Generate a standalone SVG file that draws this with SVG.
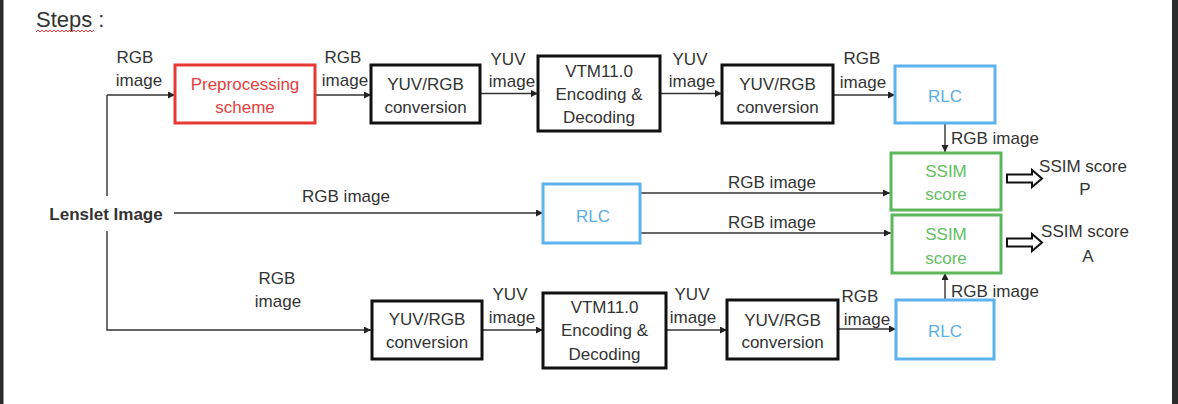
<svg xmlns="http://www.w3.org/2000/svg" width="1178" height="404" viewBox="0 0 1178 404">
<defs>
<marker id="ah" markerUnits="userSpaceOnUse" markerWidth="8" markerHeight="8" refX="7" refY="3.5" orient="auto">
<path d="M0,0 L7,3.5 L0,7 z" fill="#222"/>
</marker>
<style>
text{font-family:"Liberation Sans",Arial,sans-serif;font-size:17px;fill:#333;text-anchor:middle}
.box{fill:#fff;stroke:#111;stroke-width:3}
.red{fill:#fff;stroke:#e53935;stroke-width:3}
.blue{fill:#fff;stroke:#5db3ee;stroke-width:3}
.green{fill:#fff;stroke:#5cb85c;stroke-width:3}
.tr{fill:#e53e3e}
.tb{fill:#5aaee8}
.tg{fill:#62c062}
.c{fill:none;stroke:#333;stroke-width:1.4;marker-end:url(#ah)}
.cn{fill:none;stroke:#333;stroke-width:1.4}
.ha{fill:#fff;stroke:#111;stroke-width:2}
.l{text-anchor:start}
</style>
</defs>
<rect x="0" y="0" width="1178" height="404" fill="#fff"/>
<rect x="0" y="0" width="3.5" height="404" fill="#2b2b2b"/>
<rect x="1172" y="0" width="6" height="404" fill="#2b2b2b"/>

<g id="title">
<text x="36" y="27" class="l" style="font-size:22px">Steps :</text>
<path d="M36,32 l2,-2 l2,2 l2,-2 l2,2 l2,-2 l2,2 l2,-2 l2,2 l2,-2 l2,2 l2,-2 l2,2 l2,-2 l2,2 l2,-2 l2,2 l2,-2 l2,2 l2,-2 l2,2 l2,-2 l2,2 l2,-2 l2,2 l2,-2 l2,2 l2,-2 l2,2 l2,-2" fill="none" stroke="#e53935" stroke-width="1"/>
</g>

<g id="connectors">
<path class="cn" d="M107,196 V95"/>
<path class="c" d="M107,95 H175"/>
<path class="c" d="M107,231 V330 H371"/>
<path class="c" d="M174,213 H543"/>
<path class="c" d="M315,95 H371"/>
<path class="c" d="M480,93.5 H538"/>
<path class="c" d="M660,93.5 H722"/>
<path class="c" d="M833,95 H895"/>
<path class="c" d="M945,123 V152"/>
<path class="c" d="M640,193 H890"/>
<path class="c" d="M640,233 H891"/>
<path class="c" d="M945,300 V273"/>
<path class="c" d="M482,330 H543"/>
<path class="c" d="M666,330 H727"/>
<path class="c" d="M838,329 H896"/>
<text x="135" y="63">RGB</text>
<text x="139" y="86">image</text>
<text x="343" y="63">RGB</text>
<text x="345" y="86">image</text>
<text x="508" y="65">YUV</text>
<text x="512" y="87">image</text>
<text x="690" y="65">YUV</text>
<text x="692" y="87">image</text>
<text x="862" y="64">RGB</text>
<text x="863" y="88">image</text>
<text x="951" y="144" class="l">RGB image</text>
<text x="346" y="202">RGB image</text>
<text x="772" y="188">RGB image</text>
<text x="772" y="228">RGB image</text>
<text x="951" y="297" class="l">RGB image</text>
<text x="277" y="284">RGB</text>
<text x="278" y="307">image</text>
<text x="510" y="300">YUV</text>
<text x="512" y="323">image</text>
<text x="692" y="300">YUV</text>
<text x="693" y="323">image</text>
<text x="860" y="302">RGB</text>
<text x="867" y="325">image</text>
</g>

<g id="lenslet">
<text x="106" y="220" style="font-weight:bold">Lenslet Image</text>
</g>

<g id="prep">
<rect class="red" x="175" y="65" width="140" height="58"/>
<text class="tr" x="245" y="90">Preprocessing</text>
<text class="tr" x="245" y="113">scheme</text>
</g>
<g id="yuv1">
<rect class="box" x="371" y="65" width="109" height="58"/>
<text x="425.5" y="90">YUV/RGB</text>
<text x="425.5" y="113">conversion</text>
</g>
<g id="vtm1">
<rect class="box" x="538" y="56" width="122" height="75"/>
<text x="599" y="77">VTM11.0</text>
<text x="599" y="100">Encoding &amp;</text>
<text x="599" y="123">Decoding</text>
</g>
<g id="yuv2">
<rect class="box" x="722" y="65" width="111" height="58"/>
<text x="777.5" y="90">YUV/RGB</text>
<text x="777.5" y="113">conversion</text>
</g>
<g id="rlc1">
<rect class="blue" x="895" y="66" width="100" height="57"/>
<text class="tb" x="945" y="102">RLC</text>
</g>
<g id="ssimP">
<rect class="green" x="891" y="153" width="110" height="57"/>
<text class="tg" x="946" y="177">SSIM</text>
<text class="tg" x="946" y="200">score</text>
</g>
<g id="outP">
<path class="ha" d="M1007,174.5 H1032 V170 L1042,178.5 L1032,187 V182.5 H1007 Z"/>
<text x="1083" y="172">SSIM score</text>
<text x="1085" y="195">P</text>
</g>
<g id="rlcM">
<rect class="blue" x="543" y="184" width="97" height="59"/>
<text class="tb" x="593" y="222">RLC</text>
</g>
<g id="ssimA">
<rect class="green" x="892" y="215" width="109" height="58"/>
<text class="tg" x="946" y="240">SSIM</text>
<text class="tg" x="946" y="264">score</text>
</g>
<g id="outA">
<path class="ha" d="M1007,238.5 H1032 V234 L1042,242.5 L1032,251 V246.5 H1007 Z"/>
<text x="1085" y="237">SSIM score</text>
<text x="1088" y="262">A</text>
</g>
<g id="yuv3">
<rect class="box" x="372" y="301" width="110" height="58"/>
<text x="427" y="325">YUV/RGB</text>
<text x="427" y="348">conversion</text>
</g>
<g id="vtm2">
<rect class="box" x="543" y="293" width="123" height="75"/>
<text x="604.5" y="313">VTM11.0</text>
<text x="604.5" y="336">Encoding &amp;</text>
<text x="604.5" y="360">Decoding</text>
</g>
<g id="yuv4">
<rect class="box" x="727" y="300" width="111" height="59"/>
<text x="782.5" y="326">YUV/RGB</text>
<text x="782.5" y="348">conversion</text>
</g>
<g id="rlc3">
<rect class="blue" x="896" y="300" width="98" height="59"/>
<text class="tb" x="945" y="337">RLC</text>
</g>
</svg>
